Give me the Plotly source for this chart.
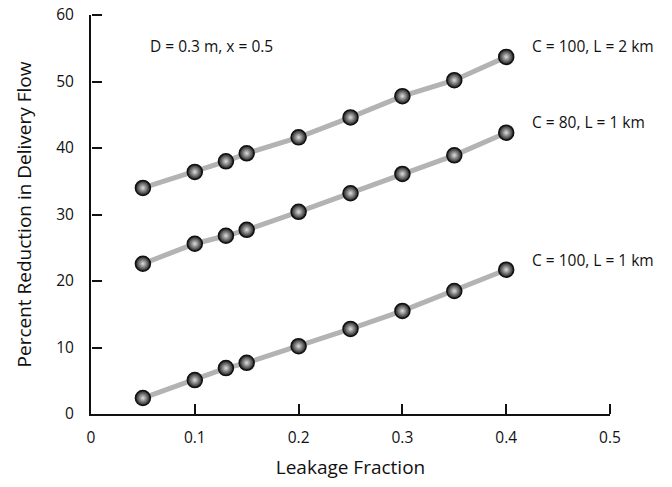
import plotly.graph_objects as go

leakage = [0.05, 0.10, 0.13, 0.15, 0.20, 0.25, 0.30, 0.35, 0.40]
c100_l2 = [34.0, 36.4, 38.0, 39.2, 41.6, 44.6, 47.8, 50.2, 53.7]
c80_l1 = [22.6, 25.6, 26.8, 27.7, 30.4, 33.2, 36.1, 38.9, 42.3]
c100_l1 = [2.4, 5.1, 6.9, 7.7, 10.2, 12.8, 15.5, 18.5, 21.7]
series_names = ["C = 100, L = 2 km", "C = 80, L = 1 km", "C = 100, L = 1 km"]
label_y = [55.3, 43.9, 23.2]
x_ticks = [0, 0.1, 0.2, 0.3, 0.4, 0.5]
x_tick_text = ["0", "0.1", "0.2", "0.3", "0.4", "0.5"]
y_ticks = [0, 10, 20, 30, 40, 50, 60]
x_range = [0, 0.5]
y_range = [0, 60]

FONT = "Open Sans"
fig = go.Figure()
for name, ys in zip(series_names, [c100_l2, c80_l1, c100_l1]):
    fig.add_trace(go.Scatter(
        x=leakage, y=ys, mode="lines", name=name,
        line=dict(color="#b3b3b3", width=5), showlegend=False, hoverinfo="skip"))
    fig.add_trace(go.Scatter(
        x=leakage, y=ys, mode="markers", name=name,
        marker=dict(size=15, color="#1c1c1c",
                    gradient=dict(type="radial", color="#dedede"),
                    line=dict(color="#111111", width=1.5)),
        showlegend=False))

# helper trace so the tick-only overlay axes are drawn
fig.add_trace(go.Scatter(x=[None], y=[None], xaxis="x2", yaxis="y2",
                         mode="markers", showlegend=False, hoverinfo="skip"))

for name, ly in zip(series_names, label_y):
    fig.add_annotation(x=0.423, y=ly, text=name, showarrow=False,
                       xanchor="left", yanchor="middle",
                       font=dict(family=FONT, size=15.5, color="#111"))

fig.add_annotation(x=0.055, y=55.3, text="D = 0.3 m, x = 0.5", showarrow=False,
                   xanchor="left", yanchor="middle",
                   font=dict(family=FONT, size=15.5, color="#111"))

fig.update_layout(
    template="none",
    width=672, height=487,
    margin=dict(l=91, r=62, t=15, b=73),
    paper_bgcolor="white", plot_bgcolor="white",
    font=dict(family=FONT, color="#111"),
    xaxis=dict(range=x_range, tickvals=x_ticks, ticktext=x_tick_text,
               showgrid=False, zeroline=False, showline=True, automargin=False,
               linecolor="#111", linewidth=2, ticks="", tickfont=dict(size=15.5),
               ticklabelstandoff=8,
               title=dict(text="Leakage Fraction", font=dict(size=19), standoff=14)),
    yaxis=dict(range=y_range, tickvals=y_ticks, showgrid=False, zeroline=False,
               showline=True, linecolor="#111", linewidth=2, ticks="", automargin=False,
               tickfont=dict(size=15.5), ticklabelstandoff=12,
               title=dict(text="Percent Reduction in Delivery Flow", font=dict(size=19),
                          standoff=20)),
    xaxis2=dict(range=x_range, tickvals=x_ticks[1:], overlaying="x", side="top",
                anchor="free", position=0, showticklabels=False, showgrid=False,
                zeroline=False, showline=False, ticks="outside", ticklen=10,
                tickwidth=2, tickcolor="#111", automargin=False),
    yaxis2=dict(range=y_range, tickvals=y_ticks[1:], overlaying="y", side="right",
                anchor="free", position=0, showticklabels=False, showgrid=False,
                zeroline=False, showline=False, ticks="outside", ticklen=10,
                tickwidth=2, tickcolor="#111", automargin=False),
)
fig.write_html("out.html")
